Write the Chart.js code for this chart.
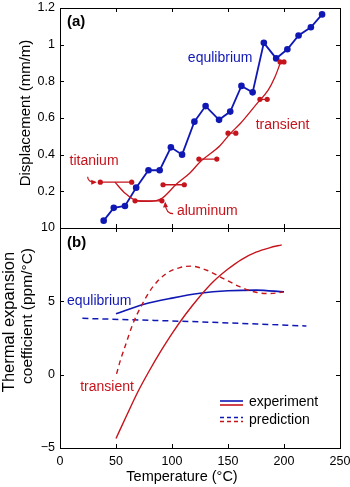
<!DOCTYPE html>
<html>
<head>
<meta charset="utf-8">
<script src="https://cdn.jsdelivr.net/npm/chart.js"></script>
<style>
body{margin:0;background:#fff;}
#wrap{position:relative;width:350px;height:487px;overflow:hidden;}
canvas{position:absolute;left:0;}
#ca{top:0;}
#cb{top:220px;}
</style>
</head>
<body>
<div id="wrap">
<canvas id="ca" width="350" height="240"></canvas>
<canvas id="cb" width="350" height="267"></canvas>
</div>
<script>
// (a) displacement vs temperature
var eqTemp = [39, 48, 58, 68, 79, 89, 99, 109, 120, 130, 142, 152, 162, 172, 182, 193, 203, 213, 224, 234];
var eqDisp = [0.04, 0.11, 0.12, 0.22, 0.315, 0.315, 0.44, 0.40, 0.58, 0.665, 0.59, 0.635, 0.775, 0.74, 1.01, 0.925, 0.975, 1.05, 1.095, 1.165];
var trStart = [36, 67, 92, 124, 150, 178.5, 196.5];
var trEnd = [64, 91, 111, 140, 157, 185, 200];
var trDisp = [0.25, 0.148, 0.236, 0.376, 0.517, 0.702, 0.906];
var fitTemp = [49, 58, 68, 80, 91, 104, 116, 125, 143, 152, 161, 176, 186, 192, 197];
var fitDisp = [0.25, 0.19, 0.15, 0.145, 0.162, 0.24, 0.30, 0.36, 0.45, 0.515, 0.57, 0.68, 0.753, 0.825, 0.905];

// (b) thermal expansion coefficient
var eqExpTemp = [50, 75, 100, 125, 150, 175, 200];
var eqExpCte = [4.15, 4.8, 5.22, 5.55, 5.72, 5.77, 5.64];
var eqPredTemp = [20, 125, 220];
var eqPredCte = [3.84, 3.6, 3.32];
var trExpTemp = [50, 60, 70, 80, 90, 100, 112, 125, 137, 150, 162, 175, 187, 198];
var trExpCte = [-4.35, -2.7, -1.1, 0.3, 1.6, 2.8, 4.1, 5.35, 6.35, 7.2, 7.85, 8.35, 8.65, 8.85];
var trPredTemp = [50.5, 54, 58, 65, 73, 83, 95, 107, 117, 131, 146, 161, 176, 188, 199];
var trPredCte = [0.05, 1.0, 1.9, 3.45, 4.75, 6.0, 6.9, 7.3, 7.4, 7.12, 6.55, 5.98, 5.6, 5.53, 5.64];

// ticks
var tempTicks = [0, 50, 100, 150, 200, 250];
var dispTicks = [0, 0.2, 0.4, 0.6, 0.8, 1, 1.2];
var cteTicks = [-5, 0, 5, 10];

var blue = 'rgb(16,24,180)';
var red = 'rgb(198,20,28)';
var FONT = "'Liberation Sans', Arial, sans-serif";

Chart.defaults.font.family = FONT;
Chart.defaults.color = '#000';

function pts(xs, ys) {
	return xs.map(function(x, i){ return {x: x, y: ys[i]}; });
}

var pairPts = [];
for (var i in trStart) {
	pairPts.push({x: trStart[i], y: trDisp[i]});
	pairPts.push({x: trEnd[i], y: trDisp[i]});
	pairPts.push({x: trEnd[i], y: null});
}

function setTicks(vals) {
	return function(scale){
		scale.ticks = vals.map(function(v){ return {value: v}; });
	};
}
function fixY(scale) { scale.width = 60; scale.paddingTop = 0; scale.paddingBottom = 0; }
function fixX(scale) { scale.height = 39; scale.paddingLeft = 0; scale.paddingRight = 0; }

function line(ctx, x0, y0, x1, y1) {
	ctx.beginPath(); ctx.moveTo(x0, y0); ctx.lineTo(x1, y1); ctx.stroke();
}
function txt(ctx, s, x, y, color, font, align) {
	ctx.fillStyle = color;
	ctx.font = font;
	ctx.textAlign = align || 'center';
	ctx.textBaseline = 'middle';
	ctx.fillText(s, x, y);
}
function vtxt(ctx, s, x, y, font) {
	ctx.save();
	ctx.translate(x, y);
	ctx.rotate(-Math.PI / 2);
	txt(ctx, s, 0, 0, '#000', font, 'center');
	ctx.restore();
}
function arrow(ctx, x0, y0, cx, cy, x1, y1, color) {
	ctx.strokeStyle = color; ctx.fillStyle = color; ctx.lineWidth = 1.2;
	ctx.beginPath(); ctx.moveTo(x0, y0); ctx.quadraticCurveTo(cx, cy, x1, y1); ctx.stroke();
	var ang = Math.atan2(y1 - cy, x1 - cx);
	ctx.beginPath();
	ctx.moveTo(x1 + 1.5 * Math.cos(ang), y1 + 1.5 * Math.sin(ang));
	ctx.lineTo(x1 - 4 * Math.cos(ang) + 2.5 * Math.sin(ang), y1 - 4 * Math.sin(ang) - 2.5 * Math.cos(ang));
	ctx.lineTo(x1 - 4 * Math.cos(ang) - 2.5 * Math.sin(ang), y1 - 4 * Math.sin(ang) + 2.5 * Math.cos(ang));
	ctx.closePath(); ctx.fill();
}

// box with inward ticks on all four sides
function framePlugin(xVals, yVals) {
	return {
		id: 'frame',
		afterDatasetsDraw: function(chart){
			var a = chart.chartArea, ctx = chart.ctx, xs = chart.scales.x, ys = chart.scales.y;
			ctx.save();
			ctx.strokeStyle = '#000'; ctx.lineWidth = 1;
			ctx.strokeRect(Math.round(a.left) + 0.5, Math.round(a.top) + 0.5, Math.round(a.right - a.left), Math.round(a.bottom - a.top));
			xVals.forEach(function(v){
				var px = Math.round(xs.getPixelForValue(v)) + 0.5;
				if (px < a.left + 2 || px > a.right - 2) return;
				line(ctx, px, a.top, px, a.top + 4);
				line(ctx, px, a.bottom, px, a.bottom - 4);
			});
			yVals.forEach(function(v){
				var py = Math.round(ys.getPixelForValue(v)) + 0.5;
				if (py < a.top + 2 || py > a.bottom - 2) return;
				line(ctx, a.left, py, a.left + 4, py);
				line(ctx, a.right, py, a.right - 4, py);
			});
			ctx.restore();
		}
	};
}

var notesA = {
	id: 'notesA',
	afterDraw: function(chart){
		var ctx = chart.ctx, xs = chart.scales.x, ys = chart.scales.y, a = chart.chartArea;
		function X(v){ return xs.getPixelForValue(v); }
		function Y(v){ return ys.getPixelForValue(v); }
		ctx.save();
		txt(ctx, '(a)', a.left + 7, a.top + 14, '#000', 'bold 15px ' + FONT, 'left');
		txt(ctx, 'equlibrium', X(143), Y(0.925), blue, '14px ' + FONT);
		txt(ctx, 'transient', X(198.7), Y(0.562), red, '14px ' + FONT);
		txt(ctx, 'titanium', X(30.4), Y(0.362), red, '14px ' + FONT);
		txt(ctx, 'aluminum', X(131.5), Y(0.094), red, '14px ' + FONT);
		arrow(ctx, X(24.7), Y(0.28), X(24.7), Y(0.25), X(31.5), Y(0.25), red);
		arrow(ctx, X(101), Y(0.078), X(94.5), Y(0.078), X(94), Y(0.135), red);
		vtxt(ctx, 'Displacement (mm/m)', 26, 113, '15px ' + FONT);
		ctx.restore();
	}
};

var notesB = {
	id: 'notesB',
	afterDraw: function(chart){
		var ctx = chart.ctx, xs = chart.scales.x, ys = chart.scales.y, a = chart.chartArea;
		function X(v){ return xs.getPixelForValue(v); }
		function Y(v){ return ys.getPixelForValue(v); }
		ctx.save();
		txt(ctx, '(b)', a.left + 7, a.top + 15, '#000', 'bold 15px ' + FONT, 'left');
		txt(ctx, 'equlibrium', X(35), Y(5.0), blue, '14px ' + FONT);
		txt(ctx, 'transient', X(42), Y(-0.85), red, '14px ' + FONT);
		// legend
		ctx.lineWidth = 1.6;
		ctx.strokeStyle = blue; line(ctx, 220, 181, 243, 181);
		ctx.strokeStyle = red; line(ctx, 220, 185, 243, 185);
		ctx.setLineDash([4, 3]);
		ctx.strokeStyle = blue; line(ctx, 220, 197.5, 243, 197.5);
		ctx.strokeStyle = red; line(ctx, 220, 201.5, 243, 201.5);
		ctx.setLineDash([]);
		txt(ctx, 'experiment', 249, 182.5, '#000', '14px ' + FONT, 'left');
		txt(ctx, 'prediction', 249, 200, '#000', '14px ' + FONT, 'left');
		// axis titles
		vtxt(ctx, 'Thermal expansion', 9.5, 102, '16.5px ' + FONT);
		vtxt(ctx, 'coefficient (ppm/°C)', 28, 96, '15.5px ' + FONT);
		txt(ctx, 'Temperature (°C)', 182, 256.5, '#000', '14.5px ' + FONT);
		ctx.restore();
	}
};

var chartA = new Chart(document.getElementById('ca'), {
	type: 'line',
	data: {
		datasets: [
			{
				data: pts(fitTemp, fitDisp),
				borderColor: red, borderWidth: 1.3,
				pointRadius: 0, cubicInterpolationMode: 'monotone'
			},
			{
				data: pairPts,
				borderColor: red, backgroundColor: red, borderWidth: 1.3,
				pointRadius: 2.6, pointBorderWidth: 0, spanGaps: false
			},
			{
				data: pts(eqTemp, eqDisp),
				borderColor: blue, backgroundColor: blue, borderWidth: 1.8,
				pointRadius: 3.3, pointBorderWidth: 0, tension: 0
			}
		]
	},
	options: {
		responsive: false, devicePixelRatio: 1, animation: false,
		layout: {padding: {left: 0, right: 10, top: 8, bottom: 12}},
		plugins: {legend: {display: false}, tooltip: {enabled: false}},
		scales: {
			x: {type: 'linear', min: 0, max: 250, display: false},
			y: {
				min: 0, max: 1.2,
				afterBuildTicks: setTicks(dispTicks),
				afterFit: fixY,
				ticks: {
					padding: 5, font: {size: 12.5},
					callback: function(v){ return v === 0 ? '' : String(+v.toFixed(1)); }
				},
				grid: {display: false, drawTicks: false},
				border: {display: false}
			}
		}
	},
	plugins: [framePlugin(tempTicks, dispTicks), notesA]
});

var chartB = new Chart(document.getElementById('cb'), {
	type: 'line',
	data: {
		datasets: [
			{
				data: pts(trPredTemp, trPredCte),
				borderColor: red, borderWidth: 1.4, borderDash: [5, 4],
				pointRadius: 0, cubicInterpolationMode: 'monotone'
			},
			{
				data: pts(eqPredTemp, eqPredCte),
				borderColor: blue, borderWidth: 1.5, borderDash: [6, 4],
				pointRadius: 0, cubicInterpolationMode: 'monotone'
			},
			{
				data: pts(trExpTemp, trExpCte),
				borderColor: red, borderWidth: 1.4,
				pointRadius: 0, cubicInterpolationMode: 'monotone'
			},
			{
				data: pts(eqExpTemp, eqExpCte),
				borderColor: blue, borderWidth: 1.7,
				pointRadius: 0, cubicInterpolationMode: 'monotone'
			}
		]
	},
	options: {
		responsive: false, devicePixelRatio: 1, animation: false,
		layout: {padding: {left: 0, right: 10, top: 8, bottom: 0}},
		plugins: {legend: {display: false}, tooltip: {enabled: false}},
		scales: {
			x: {
				type: 'linear', min: 0, max: 250,
				afterBuildTicks: setTicks(tempTicks),
				afterFit: fixX,
				ticks: {padding: 6, font: {size: 12.5}, maxRotation: 0, autoSkip: false},
				grid: {display: false, drawTicks: false},
				border: {display: false}
			},
			y: {
				min: -5, max: 10,
				afterBuildTicks: setTicks(cteTicks),
				afterFit: fixY,
				ticks: {
					padding: 5, font: {size: 12.5},
					callback: function(v){ return v < 0 ? '\u2212' + Math.abs(v) : String(v); }
				},
				grid: {display: false, drawTicks: false},
				border: {display: false}
			}
		}
	},
	plugins: [framePlugin(tempTicks, cteTicks), notesB]
});
</script>
</body>
</html>
